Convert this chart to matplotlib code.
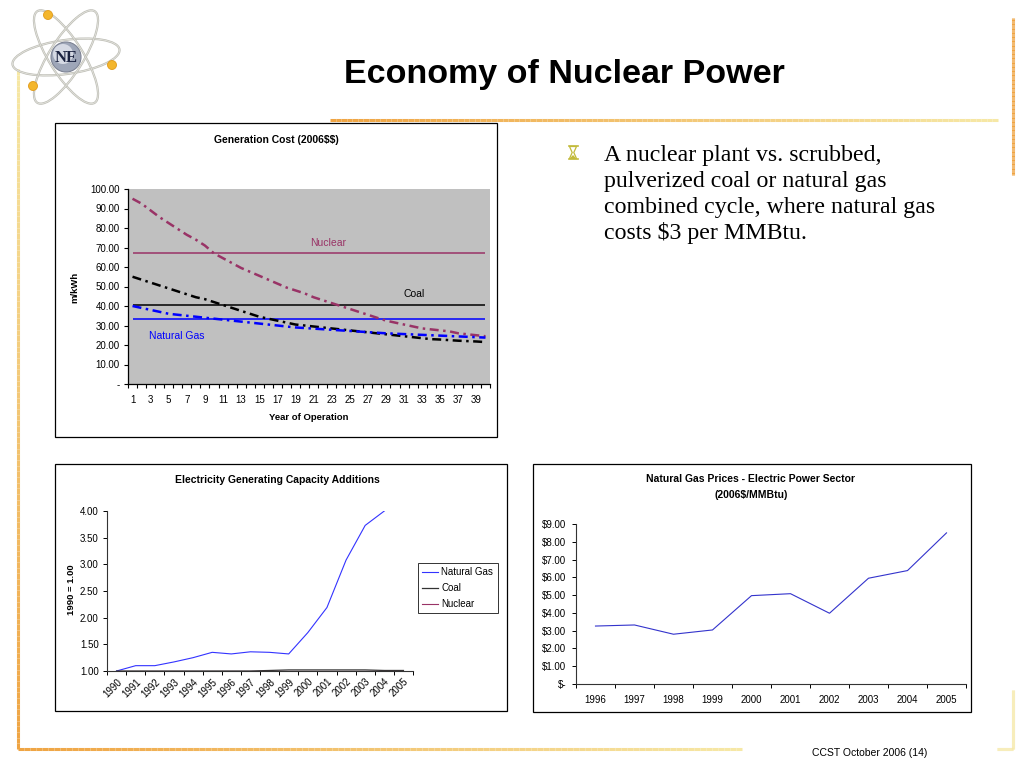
import numpy as np
import matplotlib
matplotlib.use('Agg')
import matplotlib.pyplot as plt
from matplotlib.patches import Rectangle, Ellipse, Circle, Polygon
from matplotlib.collections import LineCollection
import matplotlib.colors as mcolors

plt.rcParams['text.parse_math'] = False

# ---------------- data ----------------
# Chart 1: Generation cost (2006$$), m/kWh by year of operation
years_op = list(range(1, 41))
nuclear_curve = [95.0, 92.5, 89.0, 85.5, 82.5, 79.5, 76.5, 74.0, 71.0, 67.0,
                 64.5, 62.0, 59.5, 57.5, 55.5, 53.5, 51.5, 49.5, 48.0, 46.5,
                 44.5, 43.0, 41.5, 40.0, 38.5, 37.0, 35.5, 34.0, 32.5, 31.5,
                 30.5, 29.5, 28.5, 28.0, 27.5, 27.0, 26.0, 25.5, 25.0, 24.5]
coal_curve = [55.0, 53.5, 52.0, 50.5, 49.0, 47.5, 46.0, 44.5, 43.5, 42.0,
              40.5, 39.0, 37.5, 36.0, 34.5, 33.5, 32.5, 31.5, 30.5, 30.0,
              29.5, 29.0, 28.5, 28.0, 27.5, 27.0, 26.5, 26.0, 25.5, 25.0,
              24.5, 24.0, 23.5, 23.0, 22.8, 22.5, 22.2, 22.0, 21.8, 21.5]
gas_curve = [40.0, 39.0, 38.0, 37.0, 36.0, 35.5, 35.0, 34.5, 34.0, 33.5,
             33.0, 32.5, 32.0, 31.5, 31.0, 30.5, 30.0, 29.5, 29.0, 28.7,
             28.4, 28.1, 27.8, 27.5, 27.2, 26.9, 26.6, 26.3, 26.0, 25.8,
             25.6, 25.4, 25.2, 25.0, 24.8, 24.6, 24.4, 24.2, 24.0, 23.8]
nuclear_level = 67.0
coal_level = 40.5
gas_level = 33.2
gen_yticks = [0, 10, 20, 30, 40, 50, 60, 70, 80, 90, 100]
gen_xlabel_years = list(range(1, 40, 2))

# Chart 2: capacity additions index (1990 = 1.00)
cap_years = ['1990', '1991', '1992', '1993', '1994', '1995', '1996', '1997',
             '1998', '1999', '2000', '2001', '2002', '2003', '2004', '2005']
cap_gas = [1.00, 1.10, 1.10, 1.17, 1.25, 1.35, 1.32, 1.36,
           1.35, 1.32, 1.72, 2.19, 3.08, 3.73, 4.00, np.nan]
cap_coal = [1.00, 1.00, 1.00, 1.00, 1.00, 1.00, 1.00, 1.00,
            1.01, 1.02, 1.02, 1.02, 1.02, 1.02, 1.01, 1.01]
cap_nuclear = [1.00, 1.00, 1.00, 1.00, 1.00, 1.00, 1.00, 1.00,
               1.00, 1.00, 1.00, 1.00, 1.00, 1.00, 1.00, 1.00]
cap_yticks = [1.0, 1.5, 2.0, 2.5, 3.0, 3.5, 4.0]

# Chart 3: natural gas prices, electric power sector (2006$/MMBtu)
price_years = ['1996', '1997', '1998', '1999', '2000',
               '2001', '2002', '2003', '2004', '2005']
gas_prices = [3.26, 3.32, 2.80, 3.04, 4.97, 5.08, 3.98, 5.95, 6.38, 8.50]
price_yticks = [0, 1, 2, 3, 4, 5, 6, 7, 8, 9]

bullet_lines = ["A nuclear plant vs. scrubbed,",
                "pulverized coal or natural gas",
                "combined cycle, where natural gas",
                "costs $3 per MMBtu."]

# ---------------- figure ----------------
W, H = 1024, 768
fig = plt.figure(figsize=(W / 100, H / 100), dpi=100)
plt.rcParams['font.family'] = ['Liberation Sans', 'DejaVu Sans']

bg = fig.add_axes([0, 0, 1, 1], zorder=0)
bg.set_xlim(0, W)
bg.set_ylim(H, 0)
bg.axis('off')


def rect(l, t, r, b):
    return [l / W, 1 - b / H, (r - l) / W, (b - t) / H]


def grad_line(x0, y0, x1, y1, c0, c1, lw=2.2, n=120):
    xs = np.linspace(x0, x1, n + 1)
    ys = np.linspace(y0, y1, n + 1)
    segs = [[(xs[i], ys[i]), (xs[i + 1], ys[i + 1])] for i in range(n)]
    a = np.array(mcolors.to_rgb(c0))
    b = np.array(mcolors.to_rgb(c1))
    t = np.linspace(0, 1, n)[:, None]
    cols = a * (1 - t) + b * t
    bg.add_collection(LineCollection(segs, colors=cols, linewidths=lw,
                                     capstyle='butt'))


ORANGE = '#EFA443'
YELLOW = '#F6E8A6'
# frame lines
grad_line(330, 120, 998, 120, ORANGE, YELLOW)
grad_line(1013, 18, 1013, 175, ORANGE, ORANGE)
grad_line(18, 69, 18, 749, YELLOW, ORANGE)
grad_line(18, 749, 742, 749, ORANGE, YELLOW)
grad_line(1013, 690, 1013, 749, YELLOW, YELLOW)
grad_line(997, 749, 1013, 749, YELLOW, YELLOW)

# logo
cx, cy = 66, 57
for ang in [-8, 58, 122]:
    bg.add_patch(Ellipse((cx, cy), 108, 34, angle=ang, fill=False,
                         edgecolor='#BDBDB5', lw=1.6, zorder=2))
    bg.add_patch(Ellipse((cx, cy), 108, 34, angle=ang, fill=False,
                         edgecolor='#E4E4DE', lw=0.6, zorder=2))
bg.add_patch(Circle((cx, cy), 15, facecolor='#9EA6B8', edgecolor='#7E8494',
                    lw=0.8, zorder=3))
bg.add_patch(Circle((cx - 3, cy - 3), 10, facecolor='#D6DAE4',
                    edgecolor='none', zorder=3))
bg.text(cx, cy + 1, 'NE', fontsize=12, fontweight='bold', color='#1B2340',
        ha='center', va='center', family=['Liberation Serif'], zorder=4)
for bx, by in [(48, 15), (112, 65), (33, 86)]:
    bg.add_patch(Circle((bx, by), 4.5, facecolor='#F4B62C',
                        edgecolor='#E09A1A', lw=0.6, zorder=4))

# slide title
bg.text(564, 75, 'Economy of Nuclear Power', fontsize=24.5, fontweight='bold',
        ha='center', va='center', color='black')

# bullet (hourglass symbol, not available in installed fonts -> drawn shape)
hx, hy = 573, 152.5
HG = '#C2BA3A'
bg.plot([hx - 4.5, hx + 4.5], [hy - 6.5, hy - 6.5], color=HG, lw=1.2)
bg.plot([hx - 4.5, hx + 4.5], [hy + 6.5, hy + 6.5], color=HG, lw=1.2)
bg.add_patch(Polygon([(hx - 3.5, hy - 6), (hx + 3.5, hy - 6), (hx + 0.8, hy),
                      (hx + 3.5, hy + 6), (hx - 3.5, hy + 6), (hx - 0.8, hy)],
                     closed=True, fill=False, edgecolor=HG, lw=0.9))
bg.add_patch(Polygon([(hx - 2.8, hy + 5.5), (hx + 2.8, hy + 5.5),
                      (hx, hy + 2.5)], closed=True, facecolor=HG,
                     edgecolor='none'))
for i, line in enumerate(bullet_lines):
    bg.text(604, 156 + i * 25.5, line, fontsize=17.2, ha='left', va='center',
            family=['Liberation Serif'], color='black')

# footer
bg.text(870, 753, 'CCST October 2006 (14)', fontsize=7.5, ha='center',
        va='center', color='black')

# chart boxes
for (l, t, r, b) in [(55, 123, 497, 437), (55, 464, 507, 711),
                     (533, 464, 971, 712)]:
    bg.add_patch(Rectangle((l, t), r - l, b - t, facecolor='white',
                           edgecolor='black', lw=0.9, zorder=1))

TICKFS = 7

# ---------------- chart 1 ----------------
ax1 = fig.add_axes(rect(128, 189, 490, 384), zorder=2)
ax1.set_facecolor('#C0C0C0')
ax1.plot(years_op, [nuclear_level] * len(years_op), color='#993366', lw=1.1,
         solid_capstyle='butt')
ax1.plot(years_op, [coal_level] * len(years_op), color='black', lw=1.1,
         solid_capstyle='butt')
ax1.plot(years_op, [gas_level] * len(years_op), color='#0000FF', lw=1.1,
         solid_capstyle='butt')
dd = (3.6, 1.8, 1.0, 1.8)
ax1.plot(years_op, nuclear_curve, color='#993366', lw=1.8, dashes=dd)
ax1.plot(years_op, coal_curve, color='black', lw=1.8, dashes=dd)
ax1.plot(years_op, gas_curve, color='#0000FF', lw=1.8, dashes=dd)
ax1.set_xlim(0.5, 40.5)
ax1.set_ylim(0, 100)
for s in ['top', 'right']:
    ax1.spines[s].set_visible(False)
for s in ['left', 'bottom']:
    ax1.spines[s].set_linewidth(0.9)
ax1.set_yticks(gen_yticks)
ax1.set_yticklabels(['-' if v == 0 else '%.2f' % v for v in gen_yticks],
                    fontsize=TICKFS)
ax1.tick_params(axis='y', direction='out', length=3, width=0.8, pad=3)
ax1.set_xticks(gen_xlabel_years)
ax1.set_xticklabels([str(v) for v in gen_xlabel_years], fontsize=TICKFS)
ax1.set_xticks(np.arange(0.5, 41, 1), minor=True)
ax1.tick_params(axis='x', which='major', length=0, pad=8)
ax1.tick_params(axis='x', which='minor', direction='out', length=3, width=0.8)
ax1.text(22.6, 72.5, 'Nuclear', color='#993366', fontsize=7.5,
         ha='center', va='center')
ax1.text(32.1, 46.2, 'Coal', color='black', fontsize=7.5,
         ha='center', va='center')
ax1.text(5.9, 24.6, 'Natural Gas', color='#0000FF', fontsize=7.5,
         ha='center', va='center')
bg.text(276, 140, 'Generation Cost (2006$$)', fontsize=7.5, fontweight='bold',
        ha='center', va='center', zorder=5)
bg.text(75, 287, 'm/kWh', fontsize=6.8, fontweight='bold', rotation=90,
        ha='center', va='center', zorder=5)
bg.text(309, 417, 'Year of Operation', fontsize=6.8, fontweight='bold',
        ha='center', va='center', zorder=5)

# ---------------- chart 2 ----------------
ax2 = fig.add_axes(rect(107, 511, 413, 671), zorder=2)
ax2.set_facecolor('none')
xi = np.arange(len(cap_years))
l_gas, = ax2.plot(xi, cap_gas, color='#3333FF', lw=0.8, label='Natural Gas')
l_coal, = ax2.plot(xi, cap_coal, color='#333333', lw=0.9, label='Coal')
l_nuc, = ax2.plot(xi, cap_nuclear, color='#993366', lw=0.8, label='Nuclear')
ax2.set_xlim(-0.5, len(cap_years) - 0.5)
ax2.set_ylim(1.0, 4.0)
for s in ['top', 'right']:
    ax2.spines[s].set_visible(False)
for s in ['left', 'bottom']:
    ax2.spines[s].set_linewidth(0.8)
    ax2.spines[s].set_color('#333333')
ax2.set_yticks(cap_yticks)
ax2.set_yticklabels(['%.2f' % v for v in cap_yticks], fontsize=TICKFS)
ax2.tick_params(axis='y', direction='out', length=3, width=0.7, pad=3)
ax2.set_xticks(xi)
ax2.set_xticklabels(cap_years, fontsize=TICKFS, rotation=45, ha='right',
                    rotation_mode='anchor')
ax2.set_xticks(np.arange(-0.5, len(cap_years), 1), minor=True)
ax2.tick_params(axis='x', which='major', length=0, pad=4)
ax2.tick_params(axis='x', which='minor', direction='out', length=3, width=0.7)
leg = fig.legend(handles=[l_gas, l_coal, l_nuc], loc='upper left',
                 bbox_to_anchor=(418 / W, 1 - 563 / H), fontsize=7,
                 frameon=True, fancybox=False, handlelength=1.6,
                 handletextpad=0.35, borderpad=0.45, labelspacing=0.6,
                 borderaxespad=0)
leg.get_frame().set_edgecolor('black')
leg.get_frame().set_linewidth(0.7)
bg.text(277, 480, 'Electricity Generating Capacity Additions', fontsize=7.5,
        fontweight='bold', ha='center', va='center', zorder=5)
bg.text(72, 590, '1990 = 1.00', fontsize=6.8, fontweight='bold', rotation=90,
        ha='center', va='center', zorder=5)

# ---------------- chart 3 ----------------
ax3 = fig.add_axes(rect(576, 524, 966, 684), zorder=2)
ax3.set_facecolor('none')
xj = np.arange(len(price_years))
ax3.plot(xj, gas_prices, color='#3333CC', lw=0.8)
ax3.set_xlim(-0.5, len(price_years) - 0.5)
ax3.set_ylim(0, 9)
for s in ['top', 'right']:
    ax3.spines[s].set_visible(False)
for s in ['left', 'bottom']:
    ax3.spines[s].set_linewidth(0.8)
    ax3.spines[s].set_color('#333333')
ax3.set_yticks(price_yticks)
ax3.set_yticklabels(['$-' if v == 0 else '$%.2f' % v for v in price_yticks],
                    fontsize=TICKFS)
ax3.tick_params(axis='y', direction='out', length=3, width=0.7, pad=4)
ax3.set_xticks(xj)
ax3.set_xticklabels(price_years, fontsize=TICKFS)
ax3.set_xticks(np.arange(-0.5, len(price_years), 1), minor=True)
ax3.tick_params(axis='x', which='major', length=0, pad=8)
ax3.tick_params(axis='x', which='minor', direction='out', length=3, width=0.7)
bg.text(751, 479, 'Natural Gas Prices - Electric Power Sector', fontsize=7.5,
        fontweight='bold', ha='center', va='center', zorder=5)
bg.text(751, 495, '(2006$/MMBtu)', fontsize=7.5, fontweight='bold',
        ha='center', va='center', zorder=5)

fig.savefig('out.png', dpi=100)
